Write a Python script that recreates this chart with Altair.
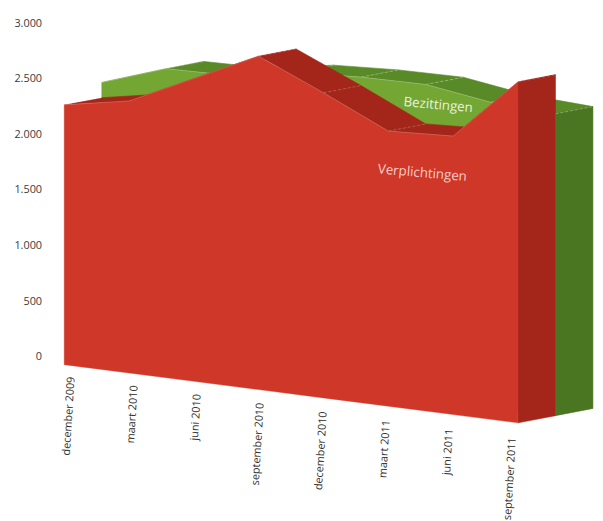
import altair as alt
import pandas as pd

# ---------------- data ----------------
quarters = ["december 2009", "maart 2010", "juni 2010", "september 2010",
            "december 2010", "maart 2011", "juni 2011", "september 2011"]
verplichtingen = [2266, 2301, 2503, 2704, 2375, 2030, 1985, 2472]
bezittingen = [2403, 2527, 2465, 2494, 2451, 2385, 2225, 2121]
y_ticks = [0, 500, 1000, 1500, 2000, 2500, 3000]

# ---------------- pseudo-3D projection ----------------
PX_PER_UNIT = 338 / 3000          # vertical pixels per value unit
Q_PX = 65.7                        # horizontal pixels per quarter
DEPTH_X = 38 / Q_PX                # depth offset, in quarter units
DEPTH_Y = 7.3 / PX_PER_UNIT        # depth offset, in value units (upwards)
BASE0 = -8 / PX_PER_UNIT           # floor at first quarter
BASE_STEP = -8.43 / PX_PER_UNIT    # floor slope per quarter

W, H = 543, 338
XMIN = -5 / Q_PX
XMAX = XMIN + W / Q_PX


def px(t, z):
    return t + DEPTH_X * z


def ptop(v, z):
    return v + DEPTH_Y * z


def pbase(t, z):
    return BASE0 + BASE_STEP * t + DEPTH_Y * z


def front_df(values, z):
    n = len(values)
    return pd.DataFrame({
        "x": [px(t, z) for t in range(n)],
        "y": [ptop(values[t], z) for t in range(n)],
        "y2": [pbase(t, z) for t in range(n)],
    })


def side_df(values, z0, z1, which):
    rows = []
    n = len(values)
    if which == "top":
        for i in range(n - 1):
            pts = [(i, values[i], z0), (i + 1, values[i + 1], z0),
                   (i + 1, values[i + 1], z1), (i, values[i], z1)]
            for k, (t, v, z) in enumerate(pts):
                rows.append({"pid": f"s{i}", "k": k, "x": px(t, z), "y": ptop(v, z)})
    else:
        t = n - 1
        pts = [(ptop(values[t], z0), z0), (ptop(values[t], z1), z1),
               (pbase(t, z1), z1), (pbase(t, z0), z0)]
        for k, (y, z) in enumerate(pts):
            rows.append({"pid": "right", "k": k, "x": px(t, z), "y": y})
    return pd.DataFrame(rows)


def edge_df(values, z0, z1):
    rows = []
    for t, v in enumerate(values):
        rows.append({"pid": f"e{t}", "k": 0, "x": px(t, z0), "y": ptop(v, z0)})
        rows.append({"pid": f"e{t}", "k": 1, "x": px(t, z1), "y": ptop(v, z1)})
    return pd.DataFrame(rows)


XS = alt.Scale(domain=[XMIN, XMAX], nice=False, zero=False)
YS = alt.Scale(domain=[0, 3000], nice=False, zero=False)
YAXIS = alt.Axis(values=y_ticks, title=None, grid=False, domain=False, ticks=False,
                 tickSize=0, labelPadding=18, labelFontSize=11, labelColor="#3a3a3a",
                 labelFont="Open Sans",
                 labelExpr="replace(format(datum.value, ','), ',', '.')")


def enc_xy():
    return dict(x=alt.X("x:Q", scale=XS, axis=None),
                y=alt.Y("y:Q", scale=YS, axis=YAXIS))


def poly(df, color):
    return alt.Chart(df).mark_line(filled=True, fill=color, stroke=color, strokeWidth=0.6,
                                   strokeJoin="round").encode(
        **enc_xy(), detail="pid:N", order="k:Q")


def edges(df, opacity):
    return alt.Chart(df).mark_line(stroke="#ffffff", strokeWidth=0.8, opacity=opacity,
                                   strokeDash=[3, 2]).encode(
        **enc_xy(), detail="pid:N", order="k:Q")


def face(df, color):
    return alt.Chart(df).mark_area(color=color, stroke=color, strokeWidth=0.4,
                                   interpolate="linear").encode(
        **enc_xy(), y2="y2:Q")


def top_line(df, opacity):
    return alt.Chart(df).mark_line(stroke="#ffffff", strokeWidth=0.7, opacity=opacity).encode(
        **enc_xy())


G_LIGHT, G_TOP, G_SIDE = "#74a634", "#588a27", "#4a7621"
R_FRONT, R_DARK = "#cf3729", "#a4261a"

green_layers = [
    poly(side_df(bezittingen, 1, 2, "top"), G_TOP),
    poly(side_df(bezittingen, 1, 2, "right"), G_SIDE),
    edges(edge_df(bezittingen, 1, 2), 0.35),
    face(front_df(bezittingen, 1), G_LIGHT),
    top_line(front_df(bezittingen, 1), 0.3),
]
red_layers = [
    poly(side_df(verplichtingen, 0, 1, "top"), R_DARK),
    poly(side_df(verplichtingen, 0, 1, "right"), R_DARK),
    edges(edge_df(verplichtingen, 0, 1), 0.25),
    face(front_df(verplichtingen, 0), R_FRONT),
    top_line(front_df(verplichtingen, 0), 0.25),
]

# quarter labels along the slanted floor
lab_df = pd.DataFrame({
    "label": quarters,
    "x": [(7.5 + 63.9 * t) / Q_PX for t in range(len(quarters))],
    "y": [(358 - (378.3 + 8.8 * t)) / PX_PER_UNIT for t in range(len(quarters))],
})
labels = alt.Chart(lab_df).mark_text(align="right", baseline="middle", angle=273.5,
                                     font="Open Sans", fontSize=11, color="#333333").encode(
    **enc_xy(), text="label:N")

series_names = pd.DataFrame({
    "name": ["Bezittingen", "Verplichtingen"],
    "x": [(444 - 65) / Q_PX, (428 - 65) / Q_PX],
    "y": [(358 - 103) / PX_PER_UNIT, (358 - 172) / PX_PER_UNIT],
    "c": ["#e9f1dc", "#f7cfc6"],
})
names = alt.Chart(series_names).mark_text(align="center", baseline="middle", angle=5,
                                          font="Open Sans", fontSize=13.5).encode(
    **enc_xy(), text="name:N", color=alt.Color("c:N", scale=None))

chart = alt.layer(*green_layers, *red_layers, labels, names).properties(
    width=W, height=H,
    autosize=alt.AutoSizeParams(type="none"),
    padding={"left": 52, "top": 12, "right": 0, "bottom": 163},
    background="white",
).configure_view(strokeWidth=0)

chart.save("out.html", embed_options={"renderer": "svg", "actions": False})
